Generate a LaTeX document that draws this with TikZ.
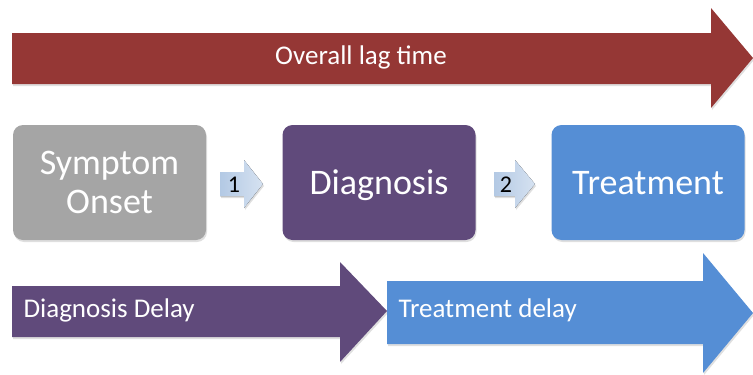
\documentclass[tikz,border=0pt]{standalone}
\usepackage{fontspec}
\setmainfont{Carlito}
\usetikzlibrary{shadows}
\definecolor{lagred}{HTML}{953735}
\definecolor{diagpurple}{HTML}{604A7B}
\definecolor{treatblue}{HTML}{558ED5}
\definecolor{onsetgray}{HTML}{A5A5A5}
\definecolor{steplight}{HTML}{B3C9E4}
\definecolor{steppale}{HTML}{D6E2F1}
\begin{document}
\begin{tikzpicture}[x=1pt,y=-1pt,
				shade/.style={drop shadow={opacity=0.25,shadow xshift=1pt,shadow yshift=-2pt}},
				stage/.style={shade,rounded corners=10pt,minimum width=193pt,minimum height=115pt,
					text=white,align=center,text depth=0pt,font=\fontsize{36}{39}\selectfont},
				bar/.style={shade},
				barlabel/.style={text=white,font=\fontsize{27}{32}\selectfont},
				steparrow/.style={shade,left color=steplight,right color=steppale},
				steplabel/.style={font=\fontsize{24}{26}\selectfont}]
\useasboundingbox (0,0) rectangle (753,375);
% overall lag time
\fill[bar,lagred] (12,33) -- (711,33) -- (711,8) -- (753,58) -- (711,108) -- (711,84) -- (12,84) -- cycle;
\node[barlabel] (lag) at (361,57) {Overall lag time};
% stages
\node[stage,fill=onsetgray] (onset) at (109.5,182.5) {Symptom\\Onset};
\node[stage,fill=diagpurple] (diagnosis) at (379,182.5) {Diagnosis};
\node[stage,fill=treatblue] (treatment) at (648,182.5) {Treatment};
% steps between stages
\fill[steparrow] (220,172) -- (244,172) -- (244,160) -- (263,184) -- (244,208) -- (244,196) -- (220,196) -- cycle;
\node[steplabel] (one) at (234,185) {1};
\fill[steparrow] (494,172) -- (515,172) -- (515,160) -- (535,184) -- (515,208) -- (515,196) -- (494,196) -- cycle;
\node[steplabel] (two) at (506,185) {2};
% delays
\fill[bar,diagpurple] (12,286) -- (340,286) -- (340,262) -- (387,311) -- (340,362) -- (340,337) -- (12,337) -- cycle;
\node[barlabel,anchor=west] (ddelay) at (20,310) {Diagnosis Delay};
\fill[bar,treatblue] (387,281) -- (703,281) -- (703,253) -- (753,313) -- (703,373) -- (703,344) -- (387,344) -- cycle;
\node[barlabel,anchor=west] (tdelay) at (395,310) {Treatment delay};
\end{tikzpicture}
\end{document}
